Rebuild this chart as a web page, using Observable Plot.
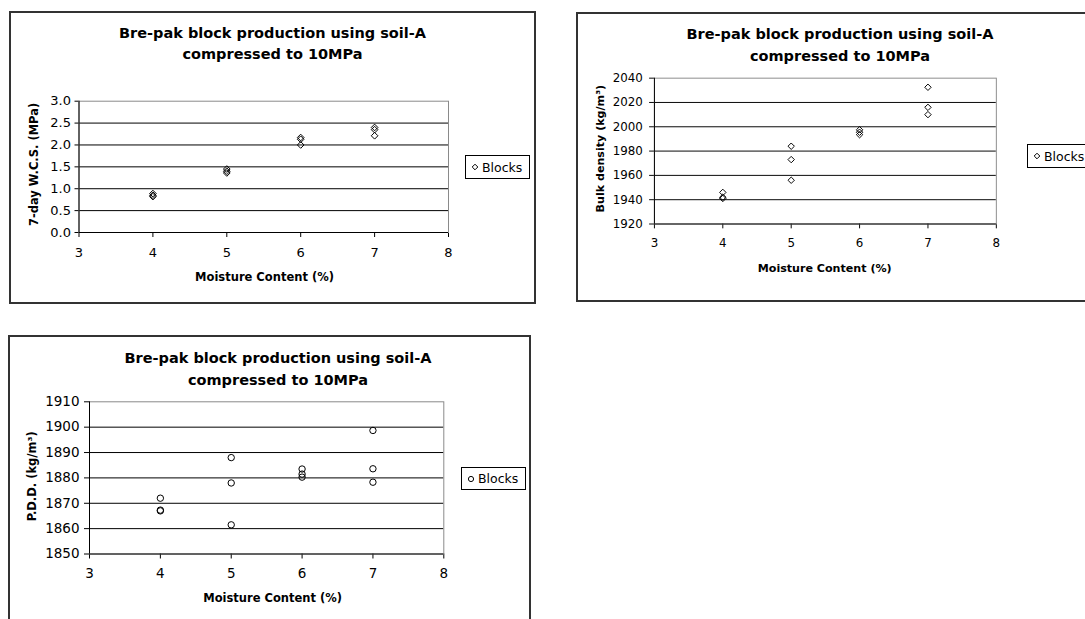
<!DOCTYPE html>
<html><head><meta charset="utf-8">
<script src="https://cdn.jsdelivr.net/npm/d3@7"></script>
<script src="https://cdn.jsdelivr.net/npm/@observablehq/plot@0.6"></script>
<style>
html,body{margin:0;padding:0;background:#fff;overflow:hidden;width:1085px;height:619px;}
#root{position:relative;width:1085px;height:619px;overflow:hidden;font-family:"DejaVu Sans",sans-serif;color:#000;}
.frame{position:absolute;box-sizing:border-box;border:2px solid #333;}
.plot{position:absolute;}
.plot svg{display:block;overflow:visible;}
.title{position:absolute;width:500px;text-align:center;font-weight:bold;font-size:14.5px;color:#000;white-space:nowrap;}
.legend{position:absolute;box-sizing:border-box;border:1px solid #000;background:#fff;font-size:12.5px;display:flex;align-items:center;white-space:nowrap;padding-left:5px;}
.legend svg{margin-right:3px;}
</style></head>
<body><div id="root"></div>
<script>
// ---- data ----
const titleLines = ["Bre-pak block production using soil-A", "compressed to 10MPa"];
const xLabel = "Moisture Content (%)";
const seriesName = "Blocks";
const xTicks = [3, 4, 5, 6, 7, 8];
const moisture = [4, 4, 4, 5, 5, 5, 6, 6, 6, 7, 7, 7];

const wcsLabel = "7-day W.C.S. (MPa)";
const wcsTicks = [0, 0.5, 1.0, 1.5, 2.0, 2.5, 3.0];
const wcsValues = [0.89, 0.85, 0.82, 1.45, 1.40, 1.36, 2.17, 2.13, 2.00, 2.40, 2.35, 2.21];

const bulkLabel = "Bulk density (kg/m³)";
const bulkTicks = [1920, 1940, 1960, 1980, 2000, 2020, 2040];
const bulkValues = [1946, 1942, 1941, 1984, 1973, 1956, 1997.5, 1995.5, 1993.5, 2032.5, 2016, 2010];

const pddLabel = "P.D.D. (kg/m³)";
const pddTicks = [1850, 1860, 1870, 1880, 1890, 1900, 1910];
const pddValues = [1872, 1867.3, 1867, 1888, 1878, 1861.5, 1883.5, 1881.5, 1880.3, 1898.7, 1883.6, 1878.3];

// ---- layout ----
const panels = [
  {values: wcsValues, ticks: wcsTicks, ylabel: wcsLabel, fmt: d3.format(".1f"), symbol: "diamond2", r: 3, tickFont: 13,
   frame: {left: 9, top: 11, w: 527, h: 293}, m: {l: 69.5, r: 88, t: 89.7, b: 72},
   ytick: [4, 4], xtick: [5, 10], xl: [0.75, 44.7], yl: [-44.3, -2.4],
   title: {cx: 272.5, top: 22.6, lh: 21.7}, legend: {left: 465, top: 155, w: 65, h: 24}},
  {values: bulkValues, ticks: bulkTicks, ylabel: bulkLabel, fmt: d3.format("d"), symbol: "diamond2", r: 3, tickFont: 12.3,
   frame: {left: 576, top: 12, w: 527, h: 290}, m: {l: 80.7, r: 92.3, t: 68, b: 71},
   ytick: [5, 7], xtick: [5, 10], xl: [-0.7, 45.7], yl: [-55.7, -2.5],
   title: {cx: 840, top: 24.3, lh: 21.7}, legend: {left: 1027, top: 144, w: 70, h: 24}},
  {values: pddValues, ticks: pddTicks, ylabel: pddLabel, fmt: d3.format("d"), symbol: "circle", r: 3.2, tickFont: 13.5,
   frame: {left: 8, top: 335, w: 523, h: 293}, m: {l: 81, r: 87.7, t: 66.3, b: 74.5},
   ytick: [5, 5], xtick: [5, 9.5], xl: [6, 44.8], yl: [-57, -1.6],
   title: {cx: 278, top: 346.6, lh: 22}, legend: {left: 461, top: 467, w: 65, h: 23}}
];

const root = document.getElementById("root");

for (const p of panels) {
  const fr = document.createElement("div");
  fr.className = "frame";
  Object.assign(fr.style, {left: p.frame.left + "px", top: p.frame.top + "px", width: p.frame.w + "px", height: p.frame.h + "px"});
  root.appendChild(fr);

  const data = moisture.map((x, i) => ({x, y: p.values[i]}));
  const yMin = p.ticks[0], yMax = p.ticks[p.ticks.length - 1];

  const chart = Plot.plot({
    width: p.frame.w,
    height: p.frame.h,
    marginLeft: p.m.l, marginRight: p.m.r, marginTop: p.m.t, marginBottom: p.m.b,
    style: {fontFamily: "DejaVu Sans", fontSize: p.tickFont + "px", color: "#000", background: "transparent", overflow: "visible"},
    x: {domain: [xTicks[0], xTicks[xTicks.length - 1]], ticks: xTicks, tickFormat: d3.format("d"),
        tickSize: p.xtick[0], tickPadding: p.xtick[1], label: null},
    y: {domain: [yMin, yMax], ticks: p.ticks, tickFormat: p.fmt,
        tickSize: p.ytick[0], tickPadding: p.ytick[1], label: null},
    marks: [
      Plot.ruleY(p.ticks.slice(1, -1), {stroke: "#000", strokeWidth: 1}),
      Plot.frame({stroke: "#8a8a8a", strokeWidth: 1}),
      Plot.ruleX([xTicks[0]], {stroke: "#000", strokeWidth: 1}),
      Plot.ruleY([yMin], {stroke: "#000", strokeWidth: 1}),
      Plot.dot(data, {x: "x", y: "y", symbol: p.symbol, r: p.r, stroke: "#000", strokeWidth: 1, fill: "none"}),
      Plot.text([xLabel], {frameAnchor: "bottom", text: d => d, dx: p.xl[0], dy: p.xl[1], lineAnchor: "middle", textAnchor: "middle",
        fontWeight: "bold", fontSize: 11.5, fill: "#000"}),
      Plot.text([p.ylabel], {frameAnchor: "left", text: d => d, dx: p.yl[0], dy: p.yl[1], rotate: -90, lineAnchor: "middle", textAnchor: "middle",
        fontWeight: "bold", fontSize: 11.5, fill: "#000"})
    ]
  });
  // tick labels: everything that is not an axis title
  chart.querySelectorAll("text").forEach(el => {
    const txt = el.textContent;
    if (txt !== xLabel && txt !== p.ylabel) {
      el.style.fontSize = p.tickFont + "px";
      el.style.fontFamily = "DejaVu Sans";
      el.style.fill = "#000";
    }
  });
  const wrap = document.createElement("div");
  wrap.className = "plot";
  Object.assign(wrap.style, {left: p.frame.left + "px", top: p.frame.top + "px"});
  wrap.appendChild(chart);
  root.appendChild(wrap);

  const t = document.createElement("div");
  t.className = "title";
  Object.assign(t.style, {left: (p.title.cx - 250) + "px", top: p.title.top + "px", lineHeight: p.title.lh + "px"});
  t.innerHTML = titleLines.join("<br>");
  root.appendChild(t);

  const lg = document.createElement("div");
  lg.className = "legend";
  Object.assign(lg.style, {left: p.legend.left + "px", top: p.legend.top + "px", width: p.legend.w + "px", height: p.legend.h + "px"});
  const marker = p.symbol === "circle"
    ? '<svg width="8" height="8"><circle cx="4" cy="4" r="2.6" fill="none" stroke="#000" stroke-width="1"/></svg>'
    : '<svg width="8" height="8"><path d="M4,1.2L6.8,4L4,6.8L1.2,4Z" fill="none" stroke="#000" stroke-width="1"/></svg>';
  lg.innerHTML = marker + "<span>" + seriesName + "</span>";
  root.appendChild(lg);
}
</script></body></html>
